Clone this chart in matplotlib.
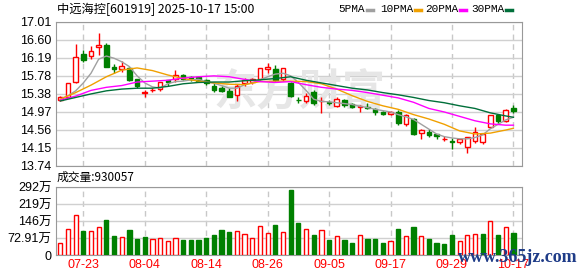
import matplotlib
matplotlib.use('Agg')
import matplotlib.pyplot as plt
import numpy as np

# daily candles, 2025-07-18 .. 2025-10-17
dates = ['07-18', '07-21', '07-22', '07-23', '07-24', '07-25', '07-28', '07-29', '07-30', '07-31',
         '08-01', '08-04', '08-05', '08-06', '08-07', '08-08', '08-11', '08-12', '08-13', '08-14',
         '08-15', '08-18', '08-19', '08-20', '08-21', '08-22', '08-25', '08-26', '08-27', '08-28',
         '08-29', '09-01', '09-02', '09-03', '09-04', '09-05', '09-08', '09-09', '09-10', '09-11',
         '09-12', '09-15', '09-16', '09-17', '09-18', '09-19', '09-22', '09-23', '09-24', '09-25',
         '09-26', '09-29', '09-30', '10-09', '10-10', '10-13', '10-14', '10-15', '10-16', '10-17']

opens = [15.24, 15.31, 15.64, 16.28, 16.23, 16.43, 16.48, 15.98, 15.93, 15.96,
         15.70, 15.40, 15.46, 15.48, 15.68, 15.72, 15.80, 15.75, 15.75, 15.69,
         15.55, 15.50, 15.44, 15.34, 15.61, 15.64, 15.70, 15.94, 15.93, 15.70,
         15.62, 15.24, 15.20, 15.42, 15.20, 15.18, 15.10, 15.23, 15.13, 15.08,
         15.08, 15.03, 14.97, 14.92, 14.97, 14.69, 14.79, 14.48, 14.51, 14.46,
         14.34, 14.29, 14.27, 14.17, 14.31, 14.28, 14.61, 14.89, 14.76, 15.04]
closes = [15.30, 15.61, 16.20, 16.15, 16.35, 16.47, 15.99, 15.93, 16.00, 15.68,
          15.55, 15.41, 15.47, 15.63, 15.65, 15.79, 15.72, 15.70, 15.67, 15.61,
          15.47, 15.43, 15.31, 15.56, 15.69, 15.70, 15.95, 15.97, 15.69, 15.95,
          15.32, 15.23, 15.32, 15.17, 15.21, 15.17, 15.26, 15.11, 15.08, 15.10,
          15.06, 14.97, 14.92, 14.97, 14.72, 14.88, 14.45, 14.55, 14.44, 14.41,
          14.35, 14.27, 14.34, 14.39, 14.51, 14.45, 14.89, 14.75, 15.00, 14.98]
highs = [15.32, 15.62, 16.50, 16.37, 16.46, 16.75, 16.52, 16.05, 16.12, 15.97,
         15.72, 15.46, 15.51, 15.64, 15.69, 15.91, 15.83, 15.78, 15.77, 15.71,
         15.61, 15.55, 15.50, 15.59, 15.73, 15.73, 15.96, 16.08, 16.03, 15.96,
         15.64, 15.31, 15.38, 15.46, 15.31, 15.23, 15.29, 15.26, 15.16, 15.11,
         15.17, 15.05, 14.99, 14.99, 15.00, 14.92, 14.82, 14.57, 14.57, 14.47,
         14.41, 14.36, 14.35, 14.40, 14.61, 14.47, 14.90, 14.90, 15.02, 15.12]
lows = [15.22, 15.29, 15.61, 16.10, 16.16, 16.26, 15.97, 15.84, 15.87, 15.66,
        15.51, 15.31, 15.42, 15.44, 15.54, 15.63, 15.69, 15.67, 15.64, 15.58,
        15.42, 15.41, 15.30, 15.22, 15.55, 15.60, 15.68, 15.84, 15.63, 15.66,
        15.30, 15.17, 15.16, 15.12, 14.94, 15.11, 15.07, 15.08, 15.04, 14.95,
        15.02, 14.90, 14.89, 14.89, 14.66, 14.64, 14.44, 14.35, 14.40, 14.35,
        14.30, 14.12, 14.23, 14.03, 14.26, 14.23, 14.60, 14.69, 14.74, 14.93]
# volume in 万
volumes = [50.5, 111, 173, 104, 104, 120, 152, 82, 77, 108,
           69, 77, 68, 72, 61, 72, 65, 65, 65, 74,
           87, 108, 100, 103, 91, 72, 124, 95, 130, 98,
           277, 136, 111, 87, 107, 65, 81, 65, 52, 85,
           69, 69, 52, 59, 113, 81, 121, 81, 69, 52,
           48, 87, 61, 85, 91, 91, 146, 87, 120, 93.0057]

ma5 = [15.25, 15.33, 15.44, 15.62, 15.84, 16.16, 16.23, 16.18, 16.10, 15.99,
       15.78, 15.62, 15.53, 15.50, 15.60, 15.65, 15.66, 15.69, 15.70, 15.65,
       15.61, 15.56, 15.50, 15.50, 15.58, 15.62, 15.69, 15.76, 15.82, 15.84,
       15.78, 15.63, 15.45, 15.25, 15.20, 15.19, 15.17, 15.15, 15.13, 15.09,
       15.06, 15.02, 14.99, 14.96, 14.90, 14.85, 14.79, 14.68, 14.57, 14.46,
       14.40, 14.37, 14.35, 14.35, 14.38, 14.44, 14.58, 14.68, 14.78, 14.84]
# longer averages read every second day
ma_days = list(range(0, 60, 2)) + [59]
ma10 = [15.25, 15.40, 15.57, 15.76, 15.91, 15.96, 15.90, 15.80, 15.72, 15.66,
        15.62, 15.59, 15.58, 15.65, 15.66, 15.66, 15.65, 15.60, 15.48, 15.33,
        15.20, 15.10, 15.02, 14.90, 14.80, 14.68, 14.53, 14.46, 14.48, 14.55, 14.59]
ma20 = [15.23, 15.32, 15.45, 15.52, 15.56, 15.64, 15.66, 15.68, 15.73, 15.76,
        15.78, 15.76, 15.70, 15.65, 15.63, 15.65, 15.58, 15.52, 15.48, 15.45,
        15.40, 15.34, 15.28, 15.18, 15.04, 14.96, 14.86, 14.76, 14.69, 14.66, 14.66]
ma30 = [15.21, 15.29, 15.37, 15.44, 15.48, 15.50, 15.50, 15.54, 15.60, 15.63,
        15.64, 15.64, 15.67, 15.69, 15.72, 15.76, 15.68, 15.62, 15.56, 15.50,
        15.46, 15.40, 15.35, 15.29, 15.22, 15.17, 15.10, 15.04, 14.94, 14.87, 14.84]

price_labels = ['13.74', '14.15', '14.56', '14.97', '15.38', '15.78', '16.19', '16.60', '17.01']
vol_labels = ['0', '72.91万', '146万', '219万', '292万']
ma_names = ['5PMA', '10PMA', '20PMA', '30PMA']
ma_colors = ['#a0a0a0', '#f0a000', '#ff00ff', '#006f3a']

plt.rcParams['font.family'] = ['Liberation Sans', 'Noto Sans CJK SC']

RED = '#ff0000'
GREEN = '#007f00'
W, H = 578, 276

fig = plt.figure(figsize=(W / 100, H / 100), dpi=100)
ax = fig.add_axes([55.5 / W, 1 - 165.7 / H, 466.5 / W, 144 / H])
axv = fig.add_axes([55.5 / W, 21 / H, 466.5 / W, 68 / H], sharex=ax)

x = np.arange(len(dates))
o = np.array(opens)
c = np.array(closes)
up = c >= o

#%% candles
ax.vlines(x, lows, highs, colors=np.where(up, RED, GREEN), linewidth=1, zorder=2)
body = np.maximum(np.abs(c - o), 0.008)
ax.bar(x, body, bottom=np.minimum(o, c), width=0.6,
       facecolor=np.where(up, 'white', GREEN), edgecolor=np.where(up, RED, GREEN),
       linewidth=1, zorder=3)

ax.plot(x, ma5, color=ma_colors[0], lw=1, zorder=4)
ax.plot(ma_days, ma10, color=ma_colors[1], lw=1, zorder=4)
ax.plot(ma_days, ma20, color=ma_colors[2], lw=1, zorder=4)
ax.plot(ma_days, ma30, color=ma_colors[3], lw=1, zorder=4)

ax.text(0.524, 0.51, '东方财富', transform=ax.transAxes, fontsize=31, fontweight='bold',
        color='#e6e6e6', ha='center', va='center', family=['Noto Sans CJK SC'], zorder=1)

ax.set_ylim(13.74, 17.01)
ax.set_yticks(np.linspace(13.74, 17.01, 9))
ax.set_yticklabels(price_labels)

#%% volume
vol_up = np.r_[True, np.diff(c) >= 0]
axv.bar(x, volumes, width=0.55, facecolor=np.where(vol_up, 'white', '#008000'),
        edgecolor=np.where(vol_up, RED, '#008000'), linewidth=1, zorder=3)
axv.set_ylim(0, 291.64)
axv.set_yticks(np.linspace(0, 291.64, 5))
axv.set_yticklabels(vol_labels)

ticks = x[3::8]
axv.set_xticks(ticks)
axv.set_xticklabels([dates[i] for i in ticks], color=RED, fontsize=8.5)
ax.set_xlim(-0.625, 60.12)

for a in (ax, axv):
    a.grid(axis='y', color='#d0d0d0', linewidth=1, zorder=0)
    for t in ticks:
        a.axvline(t, color='#c8c8c8', linestyle=(0, (4, 3)), linewidth=1, zorder=0)
    for s in a.spines.values():
        s.set_color('#999999')
    a.tick_params(length=0, labelsize=9, pad=3)
    a.set_axisbelow(True)
ax.tick_params(axis='x', labelbottom=False)

#%% texts
fig.text(57 / W, 1 - 9.5 / H, '中远海控[601919] 2025-10-17 15:00', fontsize=8.8,
         va='center', family=['Noto Sans CJK SC'])
fig.text(57 / W, 1 - 177 / H, '成交量:%.0f' % (volumes[-1] * 10000), fontsize=8.5,
         va='center', family=['Noto Sans CJK SC'])

# legend: name followed by a short coloured dash
renderer = fig.canvas.get_renderer()
lx = [338, 380, 425, 471]
for name, col, px in zip(ma_names, ma_colors, lx):
    t = fig.text(px / W, 1 - 9.5 / H, name, fontsize=8, va='center',
                 family=['Liberation Mono'])
    x1 = t.get_window_extent(renderer).x1
    fig.add_artist(plt.Line2D([(x1 + 2) / W, (x1 + 8) / W],
                              [1 - 10 / H, 1 - 10 / H], color=col, lw=2.5))

fig.text(0.999, 1 - 258 / H, 'www.365jz.com', fontsize=13, fontweight='bold',
         color='#1f3c88', ha='right', va='center', family=['Liberation Serif'])

plt.savefig('out.png', dpi=100)
